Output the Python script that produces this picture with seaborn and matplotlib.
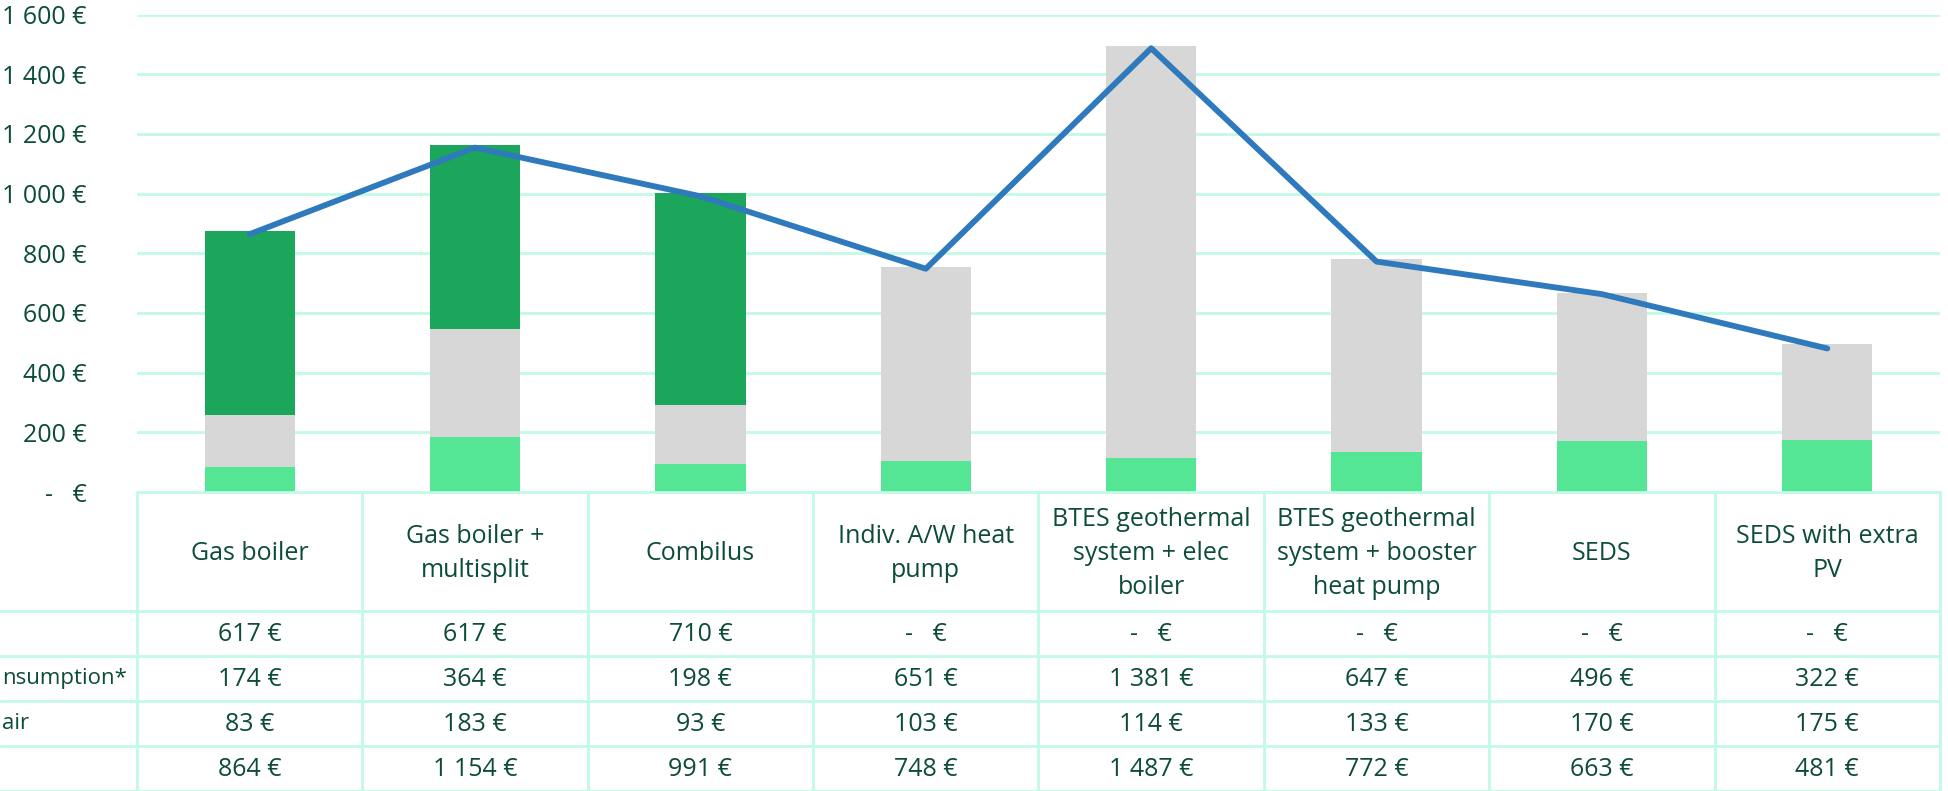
import numpy as np
import pandas as pd
import matplotlib.pyplot as plt
import seaborn as sns

systems = ["Gas boiler", "Gas boiler +\nmultisplit", "Combilus", "Indiv. A/W heat\npump",
           "BTES geothermal\nsystem + elec\nboiler", "BTES geothermal\nsystem + booster\nheat pump",
           "SEDS", "SEDS with extra\nPV"]
investment = [617, 617, 710, 0, 0, 0, 0, 0]
consumption = [174, 364, 198, 651, 1381, 647, 496, 322]
maintenance = [83, 183, 93, 103, 114, 133, 170, 175]
total = [864, 1154, 991, 748, 1487, 772, 663, 481]
# row labels are cut off at the left edge of the reference: only these parts show
row_labels = ["", "nsumption*", "air", ""]
yticks = [0, 200, 400, 600, 800, 1000, 1200, 1400, 1600]

c_invest = "#1ba65c"
c_cons = "#d7d7d7"
c_maint = "#54e695"
c_line = "#2f79bd"
c_grid = "#c2fbe5"
c_text = "#0d4c38"

sns.set_theme(style="white")
plt.rcParams['font.family'] = ['Open Sans', 'DejaVu Sans']
fs = 18

W, H = 1949, 791
fig = plt.figure(figsize=(W / 100, H / 100), dpi=100)

# main chart area (pixel layout of the reference)
left, right, top, base = 137, 1940, 14.5, 492
ax = fig.add_axes([left / W, (H - base) / H, (right - left) / W, (base - top) / H])

df = pd.DataFrame({"system": systems, "inv": investment, "cons": consumption, "maint": maintenance})
bottom2 = np.array(maintenance)
bottom3 = bottom2 + np.array(consumption)

sns.barplot(data=df, x="system", y="maint", color=c_maint, saturation=1, width=0.4,
            linewidth=0, ax=ax, zorder=2)
sns.barplot(data=df, x="system", y="cons", bottom=bottom2, color=c_cons, saturation=1,
            width=0.4, linewidth=0, ax=ax, zorder=2)
sns.barplot(data=df, x="system", y="inv", bottom=bottom3, color=c_invest, saturation=1,
            width=0.4, linewidth=0, ax=ax, zorder=2)
sns.lineplot(x=np.arange(len(total)), y=total, color=c_line, linewidth=4.2, ax=ax, zorder=3)

ax.set_xlim(-0.5, len(systems) - 0.5)
ax.set_ylim(0, 1600)
ax.set_yticks(yticks)
ax.set_yticklabels([("-   €" if v == 0 else f"{v:,} €".replace(",", " ")) for v in yticks],
                   color=c_text, fontsize=fs)
ax.tick_params(axis="y", length=0, pad=36)
ax.set_xticks([])
ax.set_xlabel("")
ax.set_ylabel("")
for v in yticks[1:]:
    ax.axhline(v, color=c_grid, linewidth=2, zorder=0)
for s in ax.spines.values():
    s.set_visible(False)
ax.set_axisbelow(True)

# data table below the chart, in pixel coordinates
tb = fig.add_axes([0, 0, 1, 1])
tb.set_xlim(0, W)
tb.set_ylim(H, 0)
tb.axis("off")
tb.patch.set_alpha(0)

colw = (right - left) / len(systems)
rows_y = [base, 611, 656, 701, 746, 791]
lw = 2
tb.plot([left, right], [base, base], color=c_grid, lw=lw)
for y in rows_y[1:]:
    tb.plot([0, right], [y, y], color=c_grid, lw=lw)
for i in range(len(systems) + 1):
    x = left + i * colw
    tb.plot([x, x], [base, H], color=c_grid, lw=lw)


def fmt(v):
    return "-   €" if v == 0 else f"{v:,} €".replace(",", " ")


table_rows = [investment, consumption, maintenance, total]
for i, name in enumerate(systems):
    cx = left + (i + 0.5) * colw
    tb.text(cx, (rows_y[0] + rows_y[1]) / 2 + 2, name, ha="center", va="center",
            fontsize=fs, color=c_text, linespacing=1.45)
    for r, vals in enumerate(table_rows):
        cy = (rows_y[r + 1] + rows_y[r + 2]) / 2 + 1
        tb.text(cx, cy, fmt(vals[i]), ha="center", va="center", fontsize=fs, color=c_text)

tb.text(2, (656 + 701) / 2, row_labels[1], ha="left", va="center", fontsize=16, color=c_text)
tb.text(2, (701 + 746) / 2, row_labels[2], ha="left", va="center", fontsize=16, color=c_text)

fig.savefig("out.png", dpi=100)
